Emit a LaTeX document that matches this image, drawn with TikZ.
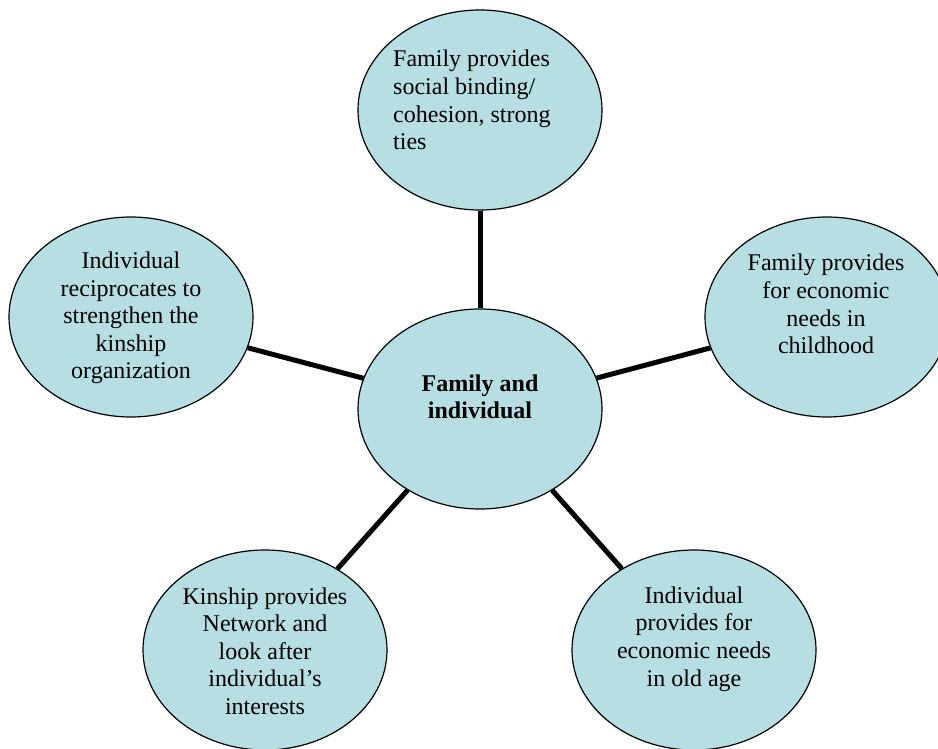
\documentclass[tikz,border=0pt]{standalone}
\usepackage{fontspec}
\setmainfont{Liberation Serif}
\usepackage{tikz}
\usetikzlibrary{shapes.geometric}
\definecolor{bubblefill}{HTML}{B7DFE3}

\begin{document}
\begin{tikzpicture}[x=1pt,y=-1pt,
    bubble/.style={ellipse,draw=black,line width=1.2pt,fill=bubblefill,
      minimum width=244pt,minimum height=200pt,inner sep=0pt},
    blurb/.style={align=center,inner sep=0pt,
      font=\fontsize{24}{27.6}\selectfont},
    link/.style={line width=5pt,black}]
        \useasboundingbox (0,0) rectangle (938,749);

        \node[bubble] (core) at (480,409) {};
        \node[bubble] (fam) at (480,110) {};
        \node[bubble] (recip) at (131,317) {};
        \node[bubble] (econ) at (827,317) {};
        \node[bubble] (kin) at (265,650) {};
        \node[bubble] (old) at (694,650) {};

        \draw[link] (core) -- (fam);
        \draw[link] (core) -- (recip);
        \draw[link] (core) -- (econ);
        \draw[link] (core) -- (kin);
        \draw[link] (core) -- (old);

        \node[blurb,font=\fontsize{24}{27.6}\selectfont\bfseries] (core-txt) at (480,397) {Family and\\individual};
        \node[blurb,align=left,anchor=west] (fam-txt) at (393,100) {Family provides\\social binding/\\cohesion, strong\\ties};
        \node[blurb] (recip-txt) at (131,318) {Individual\\reciprocates to\\strengthen the\\kinship\\organization};
        \node[blurb] (econ-txt) at (826,304) {Family provides\\for economic\\needs in\\childhood};
        \node[blurb] (kin-txt) at (265,651) {Kinship provides\\Network and\\look after\\individual’s\\interests};
        \node[blurb] (old-txt) at (694,639) {Individual\\provides for\\economic needs\\in old age};
      \end{tikzpicture}
\end{document}
